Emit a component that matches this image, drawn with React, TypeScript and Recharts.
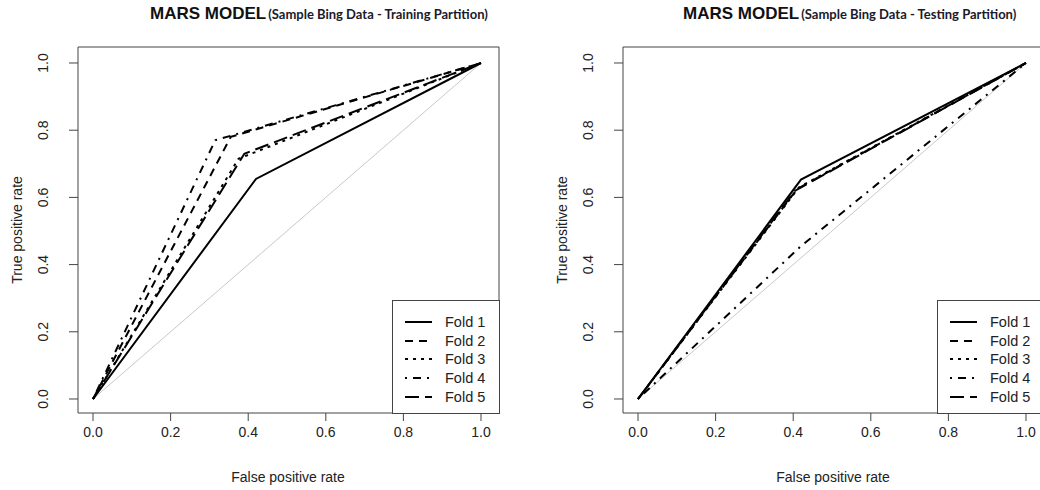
import React from 'react';
import { LineChart, Line, XAxis, YAxis, ReferenceArea } from 'recharts';

// ROC points (false positive rate / true positive rate) for each fold
const foldNames = ['Fold 1', 'Fold 2', 'Fold 3', 'Fold 4', 'Fold 5'];
const trainFpr = [
    [0, 0.42, 1],
    [0, 0.355, 1],
    [0, 0.375, 1],
    [0, 0.315, 1],
    [0, 0.39, 1],
];
const trainTpr = [
    [0, 0.655, 1],
    [0, 0.78, 1],
    [0, 0.715, 1],
    [0, 0.77, 1],
    [0, 0.73, 1],
];
const testFpr = [
    [0, 0.42, 1],
    [0, 0.41, 1],
    [0, 0.415, 1],
    [0, 0.42, 1],
    [0, 0.405, 1],
];
const testTpr = [
    [0, 0.653, 1],
    [0, 0.625, 1],
    [0, 0.63, 1],
    [0, 0.455, 1],
    [0, 0.62, 1],
];
const diagonal = [{ x: 0, y: 0 }, { x: 1, y: 1 }];
const tickValues = [0, 0.2, 0.4, 0.6, 0.8, 1];

// R style line types (lwd = 2)
const dashes = ['0', '8 6', '3 5', '2 6 8 6', '14 6'];

const FONT = '"Liberation Sans", Arial, sans-serif';
const xDomain: [number, number] = [-0.0387, 1.0464];
const yDomain: [number, number] = [-0.0417, 1.0476];

const fmt = (v: number) => v.toFixed(1);

const YTick = (props: any) => {
    const { y, payload } = props;
    return (
        <text
            x={0}
            y={0}
            transform={`translate(43,${y}) rotate(-90)`}
            textAnchor="middle"
            dominantBaseline="central"
            fontFamily={FONT}
            fontSize={14}
            fill="#222"
        >
            {fmt(payload.value)}
        </text>
    );
};

interface PanelProps {
    left: number;
    titleLeft: number;
    subtitle: string;
    fpr: number[][];
    tpr: number[][];
}

const Panel: React.FC<PanelProps> = ({ left, titleLeft, subtitle, fpr, tpr }) => {
    const series = fpr.map((xs, i) => xs.map((x, j) => ({ x, y: tpr[i][j] })));

    return (
        <div style={{ position: 'absolute', left, top: 0, width: 520, height: 490 }}>
            <LineChart width={520} height={490} margin={{ top: 47, right: 21, bottom: 37, left: 8 }}>
                <XAxis
                    type="number"
                    dataKey="x"
                    domain={xDomain}
                    ticks={tickValues}
                    allowDataOverflow
                    axisLine={false}
                    tickLine={{ stroke: '#444' }}
                    tickSize={8}
                    tickMargin={6}
                    tickFormatter={fmt}
                    height={40}
                    tick={{ fontFamily: FONT, fontSize: 14, fill: '#222' }}
                />
                <YAxis
                    type="number"
                    dataKey="y"
                    domain={yDomain}
                    ticks={tickValues}
                    allowDataOverflow
                    axisLine={false}
                    tickLine={{ stroke: '#444' }}
                    tickSize={9}
                    width={70}
                    tick={<YTick />}
                />
                <ReferenceArea
                    x1={xDomain[0]}
                    x2={xDomain[1]}
                    y1={yDomain[0]}
                    y2={yDomain[1]}
                    fill="none"
                    stroke="#444"
                    strokeWidth={1}
                    ifOverflow="visible"
                />
                <Line
                    data={diagonal}
                    dataKey="y"
                    type="linear"
                    stroke="#c8c8c8"
                    strokeWidth={1}
                    dot={false}
                    isAnimationActive={false}
                />
                {series.map((pts, i) => (
                    <Line
                        key={foldNames[i]}
                        data={pts}
                        dataKey="y"
                        name={foldNames[i]}
                        type="linear"
                        stroke="#000"
                        strokeWidth={2}
                        strokeDasharray={dashes[i]}
                        dot={false}
                        isAnimationActive={false}
                    />
                ))}
            </LineChart>

            {/* title */}
            <div style={{ position: 'absolute', left: titleLeft, top: 4, whiteSpace: 'nowrap', display: 'flex', alignItems: 'baseline' }}>
                <span style={{ fontFamily: FONT, fontWeight: 'bold', fontSize: 17, color: '#111' }}>MARS MODEL</span>
                <span style={{ fontFamily: 'Lato, sans-serif', fontWeight: 'bold', fontSize: 13, color: '#1a1a2a', marginLeft: 2 }}>
                    {subtitle}
                </span>
            </div>

            {/* axis titles */}
            <div style={{ position: 'absolute', left: 188, width: 200, top: 469, textAlign: 'center', fontFamily: FONT, fontSize: 14, color: '#222' }}>
                False positive rate
            </div>
            <div
                style={{
                    position: 'absolute', left: 17, top: 230, width: 200, marginLeft: -100, marginTop: -9,
                    textAlign: 'center', fontFamily: FONT, fontSize: 14, color: '#222', transform: 'rotate(-90deg)',
                    lineHeight: '18px'
                }}
            >
                True positive rate
            </div>

            {/* legend */}
            <div style={{ position: 'absolute', left: 392, top: 300, width: 106, height: 112, border: '1px solid #444', background: '#fff' }}>
                {foldNames.map((name, i) => (
                    <div key={name} style={{ position: 'absolute', left: 12, top: 12 + i * 18.7, height: 18, display: 'flex', alignItems: 'center' }}>
                        <svg width={28} height={18}>
                            <line x1={0} y1={9} x2={27} y2={9} stroke="#000" strokeWidth={2} strokeDasharray={dashes[i]} />
                        </svg>
                        <span style={{ marginLeft: 12, fontFamily: FONT, fontSize: 14.5, color: '#222' }}>{name}</span>
                    </div>
                ))}
            </div>
        </div>
    );
};

export default function App() {
    return (
        <div style={{ position: 'absolute', left: 0, top: 0, width: 1040, height: 490, overflow: 'hidden', background: '#fff' }}>
            <Panel left={0} titleLeft={150} subtitle="(Sample Bing Data - Training Partition)" fpr={trainFpr} tpr={trainTpr} />
            <Panel left={545} titleLeft={138} subtitle="(Sample Bing Data - Testing Partition)" fpr={testFpr} tpr={testTpr} />
        </div>
    );
}
